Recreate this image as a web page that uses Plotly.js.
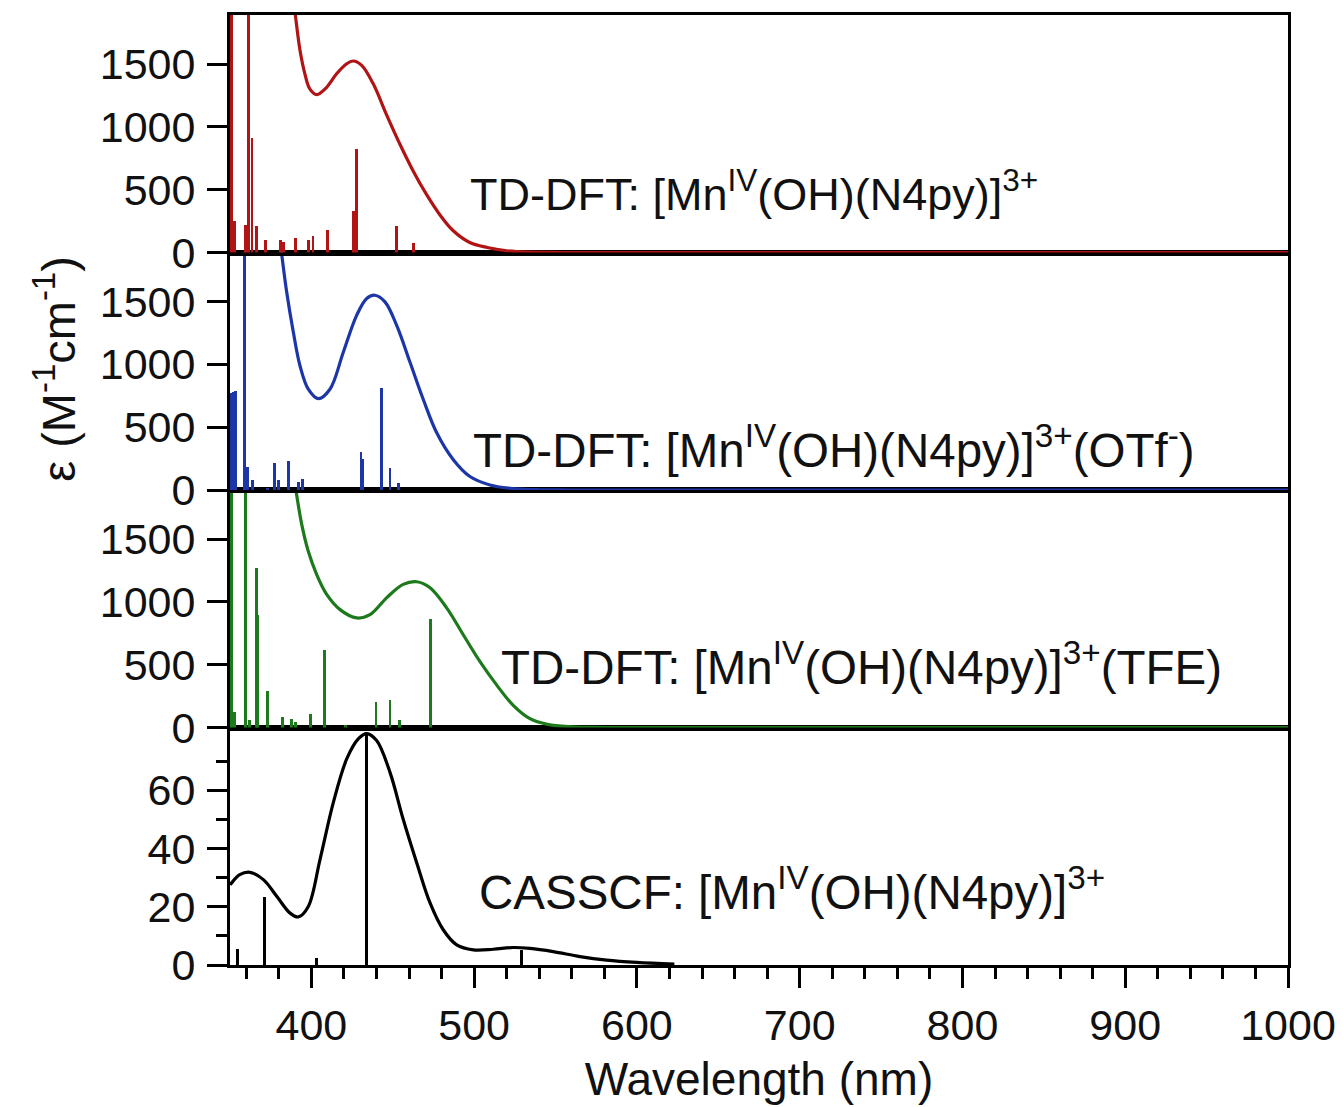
<!DOCTYPE html>
<html>
<head>
<meta charset="utf-8">
<script src="https://cdn.plot.ly/plotly-3.0.1.min.js"></script>
<style>html,body{margin:0;padding:0;background:#fff;}#chart{width:1343px;height:1107px;}</style>
</head>
<body>
<div id="chart"></div>
<script>
// ---------- DATA ----------
// Panel 1: TD-DFT [MnIV(OH)(N4py)]3+  (red)
const redCurveX = [388, 390, 393, 396, 399, 403.3, 409.4, 415.5, 421.7, 425.7, 430.9, 438, 446, 454.4, 462.6, 470.8, 479, 487, 497, 508, 520, 535, 555, 1000];
const redCurveY = [2100, 1903, 1610, 1422, 1302, 1257, 1315, 1422, 1502, 1524, 1489, 1342, 1101, 861, 647, 460, 299, 175, 82, 40, 14, 3, 0, 0];
const redStickX = [351, 352.5, 359.5, 361.5, 363.5, 366, 372, 381, 383, 390, 398, 401, 410, 425.7, 427.5, 452.4, 462.6];
const redStickY = [2500, 250, 219, 2500, 914, 211, 99, 100, 80, 112, 100, 128, 179, 329, 820, 208, 72];

// Panel 2: TD-DFT [MnIV(OH)(N4py)]3+(OTf-)  (blue)
const blueCurveX = [380.5, 381.8, 384.8, 388.9, 393, 398.1, 404.2, 411.4, 419.6, 427.8, 434, 439, 445.2, 452.4, 460.6, 468.7, 477, 487.2, 497.4, 509.7, 522, 540, 560, 1000];
const blueCurveY = [2000, 1871, 1578, 1257, 989, 802, 727, 802, 1096, 1390, 1524, 1550, 1497, 1310, 1016, 722, 455, 241, 107, 40, 14, 2, 0, 0];
const blueStickX = [350.5, 352, 353.5, 359, 361, 363.7, 373, 377.6, 379.7, 385.8, 392, 394.6, 430.5, 431.5, 443.2, 448.3, 453.4];
const blueStickY = [770, 780, 786, 2500, 187, 80, 16, 213, 80, 227, 67, 88, 300, 250, 813, 173, 59];

// Panel 3: TD-DFT [MnIV(OH)(N4py)]3+(TFE)  (green)
const greenCurveX = [389, 390.5, 394, 398, 403.2, 409.4, 417.6, 427.8, 436, 446.2, 456.4, 464.7, 472.9, 483.1, 493.3, 503.6, 513.9, 524, 534.3, 545, 560, 580, 1000];
const greenCurveY = [2000, 1887, 1620, 1406, 1219, 1059, 938, 872, 898, 1032, 1139, 1160, 1112, 952, 738, 524, 337, 176, 70, 25, 6, 0, 0];
const greenStickX = [351, 353, 359.8, 361.9, 366, 366.8, 373, 382, 388, 390, 399.5, 408, 421, 439.7, 448.3, 454, 472.9];
const greenStickY = [2500, 123, 2500, 56, 1273, 898, 289, 83, 70, 40, 110, 617, 22, 203, 222, 62, 864];

// Panel 4: CASSCF [MnIV(OH)(N4py)]3+  (black)
const blackCurveX = [350, 351, 356, 362.3, 370.5, 378.7, 386.9, 392, 398.1, 405.3, 413.5, 421.7, 428.8, 434, 440.1, 448.3, 456.4, 464.7, 472.9, 481, 489.3, 499.5, 511.7, 524, 534.3, 548.6, 565, 581.4, 599.8, 623];
const blackCurveY = [27.5, 28.2, 31, 31.8, 29.3, 23.6, 17.8, 16.5, 20.1, 36.2, 55.8, 70.7, 77.6, 79.4, 77, 66.1, 50, 35.1, 21.3, 12.1, 6.9, 5.2, 5.4, 6.0, 5.7, 4.6, 2.9, 1.7, 0.9, 0.3];
const blackStickX = [354.5, 371, 403, 434, 529];
const blackStickY = [5.6, 23.5, 2.5, 79, 5.2];

const xTickVals = [400, 500, 600, 700, 800, 900, 1000];
const tdTickVals = [0, 500, 1000, 1500];
const casTickVals = [0, 20, 40, 60];

const labels = [
  "TD-DFT: [Mn<sup>IV</sup>(OH)(N4py)]<sup>3+</sup>",
  "TD-DFT: [Mn<sup>IV</sup>(OH)(N4py)]<sup>3+</sup>(OTf<sup>-</sup>)",
  "TD-DFT: [Mn<sup>IV</sup>(OH)(N4py)]<sup>3+</sup>(TFE)",
  "CASSCF: [Mn<sup>IV</sup>(OH)(N4py)]<sup>3+</sup>"
];

// ---------- STYLE ----------
const RED = '#b01414', BLUE = '#1c36a8', GREEN = '#1c7a1c', BLACK = '#000000';
const FONT = 'Liberation Sans, Arial, sans-serif';
const stickW = 1.8;

function curve(x, y, color, xa, ya) {
  return {type: 'scatter', mode: 'lines', x: x, y: y, xaxis: xa, yaxis: ya,
          line: {color: color, width: 3.2, shape: 'spline', smoothing: 1}, hoverinfo: 'skip'};
}
function sticks(x, y, color, xa, ya) {
  return {type: 'bar', x: x, y: y, xaxis: xa, yaxis: ya, width: x.map(() => stickW),
          marker: {color: color, line: {width: 0}}, hoverinfo: 'skip'};
}

const traces = [
  sticks(blackStickX, blackStickY, BLACK, 'x', 'y'),
  curve(blackCurveX, blackCurveY, BLACK, 'x', 'y'),
  sticks(greenStickX, greenStickY, GREEN, 'x2', 'y2'),
  curve(greenCurveX, greenCurveY, GREEN, 'x2', 'y2'),
  sticks(blueStickX, blueStickY, BLUE, 'x3', 'y3'),
  curve(blueCurveX, blueCurveY, BLUE, 'x3', 'y3'),
  sticks(redStickX, redStickY, RED, 'x4', 'y4'),
  curve(redCurveX, redCurveY, RED, 'x4', 'y4')
];

const axLine = {showline: true, linecolor: '#000', linewidth: 3, mirror: true, showgrid: false, zeroline: false, layer: 'below traces'};
const tickFont = {family: FONT, size: 43, color: '#111'};

function topX(anchor) {
  return Object.assign({}, axLine, {anchor: anchor, matches: 'x', range: [350, 1000], showticklabels: false, ticks: ''});
}
function tdY(domain, anchor) {
  return Object.assign({}, axLine, {domain: domain, anchor: anchor, range: [0, 1890], tickmode: 'array', tickvals: tdTickVals,
    ticks: 'outside', ticklen: 20, tickwidth: 3, tickcolor: '#000', tickfont: tickFont, ticklabelstandoff: 3});
}
function label(text, x, y, size) {
  return {text: text, xref: 'paper', yref: 'paper', x: x, y: y, xanchor: 'left', yanchor: 'bottom', showarrow: false,
          font: {family: FONT, size: size, color: '#111'}};
}

const layout = {
  width: 1343, height: 1107,
  margin: {l: 230, r: 55, t: 15, b: 142},
  paper_bgcolor: '#fff', plot_bgcolor: '#fff',
  showlegend: false, barmode: 'overlay', bargap: 0,
  font: {family: FONT, color: '#111'},
  xaxis: Object.assign({}, axLine, {anchor: 'y', range: [350, 1000], tickmode: 'array', tickvals: xTickVals,
    ticks: 'outside', ticklen: 20, tickwidth: 3, tickcolor: '#000', tickfont: tickFont,
    minor: {dtick: 20, tick0: 0, ticks: 'outside', ticklen: 11, tickwidth: 3, tickcolor: '#000'},
    title: {text: 'Wavelength (nm)', font: {family: FONT, size: 46, color: '#111'}, standoff: 16}}),
  yaxis: Object.assign({}, axLine, {domain: [0, 0.25], anchor: 'x', range: [0, 81.5], tickmode: 'array', tickvals: casTickVals,
    ticks: 'outside', ticklen: 20, tickwidth: 3, tickcolor: '#000', tickfont: tickFont, ticklabelstandoff: 3,
    minor: {tickmode: 'array', tickvals: [10, 30, 50, 70], ticks: 'outside', ticklen: 11, tickwidth: 3, tickcolor: '#000'}}),
  xaxis2: topX('y2'), yaxis2: tdY([0.25, 0.5], 'x2'),
  xaxis3: topX('y3'), yaxis3: tdY([0.5, 0.75], 'x3'),
  xaxis4: topX('y4'), yaxis4: tdY([0.75, 1], 'x4'),
  annotations: [
    label(labels[0], 0.225, 0.782, 45),
    label(labels[1], 0.2278, 0.5116, 47.5),
    label(labels[2], 0.2545, 0.2832, 47.5),
    label(labels[3], 0.2335, 0.046, 47.5),
    {text: 'ε (M<sup>-1</sup>cm<sup>-1</sup>)', xref: 'paper', yref: 'paper', x: -0.165, y: 0.628, xanchor: 'center', yanchor: 'middle', textangle: -90, showarrow: false, font: {family: FONT, size: 47, color: '#111'}}
  ]
};

Plotly.newPlot('chart', traces, layout, {displayModeBar: false, staticPlot: true});
</script>
</body>
</html>
